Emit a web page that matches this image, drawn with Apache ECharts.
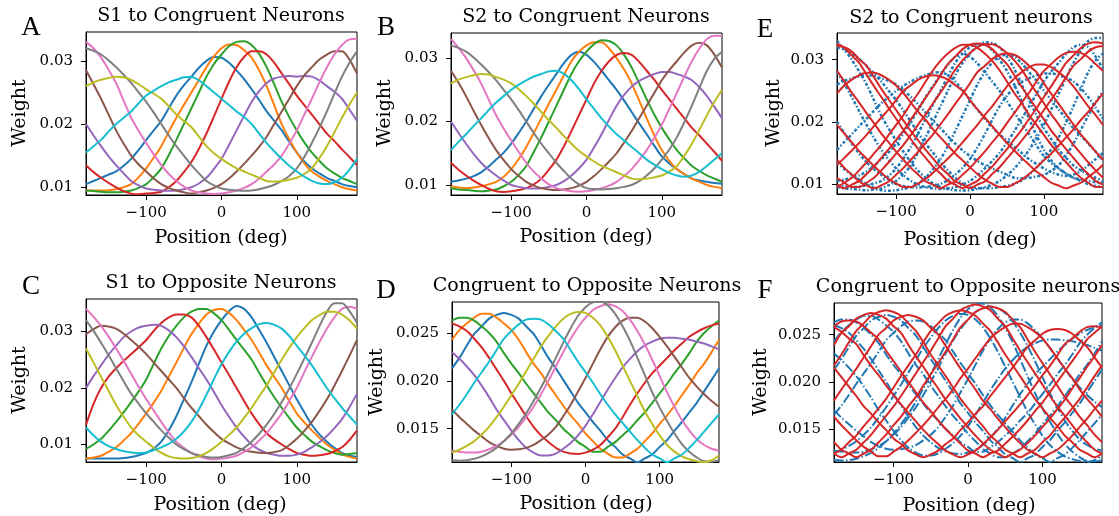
<!DOCTYPE html>
<html>
<head>
<meta charset="utf-8">
<script src="https://cdn.jsdelivr.net/npm/echarts@6/dist/echarts.min.js"></script>
<style>
  html, body { margin: 0; background: #fff; }
  #main { width: 1119px; height: 516px; }
</style>
</head>
<body>
<div id="main"></div>
<script>
// x positions (deg), shared by every curve
const positions = [-180, -170, -160, -150, -140, -130, -120, -110, -100, -90, -80, -70, -60, -50, -40, -30, -20, -10,
  0, 10, 20, 30, 40, 50, 60, 70, 80, 90, 100, 110, 120, 130, 140, 150, 160, 170, 180];
const xTicks = [-100, 0, 100];
const yTicksHigh = [0.01, 0.02, 0.03];
const yTicksLow = [0.015, 0.020, 0.025];

// weights below are in units of 0.001, one row per neuron
// A: S1 to congruent neurons
const s1Congruent = [
  [10.5, 11, 11.5, 12, 12.5, 13.4, 14.5, 15.9, 17.5, 19, 20.5, 22.5, 24.5, 26.1, 27.5, 28.9, 30, 30.6, 30.5, 29.7, 28.5, 27.1, 25.5, 23.8, 22, 20.5, 19, 17.2, 15.5, 14.1, 13, 12.2, 11.5, 11, 10.5, 10.2, 10],
  [9.5, 9.5, 9.5, 9.55, 9.7, 10, 10.5, 11.6, 13, 14.7, 16.5, 18.8, 21, 23, 25, 27, 29, 30.7, 32, 32.6, 32.5, 31.7, 30.5, 28.5, 26, 23, 20, 17.6, 15.5, 13.8, 12.5, 11.7, 11, 10.5, 10, 9.7, 9.5],
  [9.5, 9.4, 9.3, 9.2, 9.2, 9.3, 9.5, 9.9, 10.5, 11.6, 13, 15.1, 17.5, 20, 22.5, 25, 27.5, 29.5, 31, 32.3, 33, 33.1, 32.5, 31.1, 29, 26.3, 23.5, 21.1, 19, 17.1, 15.5, 14.2, 13, 12.2, 11.5, 11, 10.5],
  [13.5, 12.4, 11.5, 10.7, 10, 9.4, 9, 8.9, 9, 9.1, 9.3, 10, 11, 12.4, 14, 16.1, 18.5, 21.2, 24, 26.7, 29, 30.6, 31.5, 31.5, 31, 29.7, 28, 26.3, 24.5, 23, 21.5, 20, 18.5, 17.3, 16, 14.8, 13.5],
  [20, 18.2, 16.5, 14.9, 13.5, 12.2, 11, 10.3, 9.8, 9.6, 9.5, 9.45, 9.5, 9.7, 10, 10.6, 11.5, 12.9, 14.5, 16.7, 19, 21.3, 23.5, 25.2, 26.5, 27.2, 27.5, 27.6, 27.5, 27.6, 27.5, 26.9, 26, 25.1, 24, 22.3, 20.5],
  [28.5, 26.3, 24, 21.5, 19, 16.9, 15, 13.6, 12.5, 11.4, 10.5, 9.9, 9.5, 9.2, 9, 9.2, 9.5, 9.9, 10.5, 11.4, 12.5, 13.7, 15, 16.4, 18, 20, 22, 24, 26, 27.7, 29, 30.2, 31, 31.5, 31.5, 30.2, 28],
  [33, 32, 30.5, 28.6, 26.5, 23.7, 21, 18.9, 17, 15.2, 13.5, 12.1, 11, 10.1, 9.5, 9.2, 9, 8.95, 9, 9.2, 9.5, 9.9, 10.5, 11.4, 12.5, 13.6, 15, 16.9, 19, 21.5, 24, 26.6, 29, 31, 32.5, 33.4, 33.5],
  [32, 31.6, 31, 30.1, 29, 27.8, 26.5, 25, 23.5, 21.8, 20, 18.2, 16.5, 15, 13.5, 12.2, 11, 10.3, 9.8, 9.6, 9.5, 9.45, 9.5, 9.7, 10, 10.4, 11, 11.8, 13, 14.8, 17, 19.4, 22, 24.8, 27.5, 29.7, 31.5],
  [26, 26.6, 27, 27.3, 27.5, 27.4, 27, 26.3, 25.5, 24.8, 24, 22.8, 21.5, 20.5, 19.5, 18, 16.5, 15.4, 14.5, 13.7, 13, 12.5, 12, 11.5, 11, 10.9, 11, 11.2, 11.5, 12.1, 13, 14.6, 16.5, 18.7, 21, 23.1, 25],
  [15.5, 16.5, 17.5, 18.8, 20, 21, 22, 23.3, 24.5, 25.3, 26, 26.6, 27, 27.4, 27.5, 26.9, 26, 25, 24, 23, 22, 21.1, 20, 18.5, 17, 15.7, 14.5, 13.4, 12.5, 11.7, 11, 10.6, 10.5, 10.8, 11.5, 12.8, 14.5]
];
// B: S2 to congruent neurons (also the blue data in E)
const s2Congruent = [
  [10.5, 10.7, 11, 11.4, 12, 12.9, 14, 15.1, 16.5, 18.2, 20, 22, 24, 25.8, 27.5, 29.2, 30.5, 31, 30.5, 29.4, 28, 26.5, 25, 23.3, 21.5, 19.7, 18, 16.2, 14.5, 13.4, 12.5, 11.7, 11, 10.7, 10.5, 10.3, 10.2],
  [9.8, 9.6, 9.5, 9.6, 9.8, 10.1, 10.5, 11.3, 12.5, 14.1, 16, 18.2, 20.5, 22.8, 25, 27.3, 29.5, 31, 32, 32.5, 32.5, 31.5, 30, 28.2, 26, 23.3, 20.5, 17.8, 15.5, 13.8, 12.5, 11.7, 11, 10.5, 10, 9.7, 9.5],
  [9.5, 9.3, 9.2, 9.1, 9, 9.1, 9.3, 9.8, 10.5, 11.6, 13, 15.2, 17.5, 20, 22.5, 25, 27.5, 29.5, 31, 32.2, 32.8, 32.7, 32, 30.5, 28.5, 26, 23.5, 21.1, 19, 17.2, 15.5, 14.2, 13, 12.2, 11.5, 11, 10.5],
  [13.5, 12.4, 11.5, 10.7, 10, 9.4, 9, 8.9, 9, 9.2, 9.5, 10.1, 11, 12.4, 14, 16.1, 18.5, 21, 23.5, 26, 28, 29.5, 30.5, 30.8, 30.5, 29.4, 28, 26.6, 25, 23.5, 22, 20.5, 19, 17.8, 16.5, 15.2, 13.8],
  [20, 18.2, 16.5, 14.9, 13.5, 12.4, 11.5, 10.7, 10, 9.7, 9.5, 9.45, 9.5, 9.7, 10, 10.6, 11.5, 12.6, 14, 15.9, 18, 20.3, 22.5, 24.2, 25.5, 26.4, 27, 27.5, 27.8, 27.8, 27.5, 27.1, 26.5, 25.4, 24, 22.3, 20.5],
  [28, 26.1, 24, 21.7, 19.5, 17.4, 15.5, 13.9, 12.5, 11.4, 10.5, 9.9, 9.5, 9.3, 9.2, 9.3, 9.5, 9.9, 10.5, 11.4, 12.5, 13.7, 15, 16.7, 18.5, 20.5, 22.5, 24.5, 26.5, 28.1, 29.5, 30.9, 32, 32.4, 32, 30.5, 28.5],
  [33, 31.6, 30, 28.1, 26, 23.5, 21, 18.9, 17, 15.2, 13.5, 12.1, 11, 10.1, 9.5, 9.2, 9, 8.95, 9, 9.2, 9.5, 9.9, 10.5, 11.4, 12.5, 13.9, 15.5, 17.4, 19.5, 22, 24.5, 27.1, 29.5, 31.5, 33, 33.5, 33.5],
  [32, 31.6, 31, 30.1, 29, 27.8, 26.5, 25, 23.5, 21.8, 20, 18.2, 16.5, 15, 13.5, 12.2, 11, 10.1, 9.5, 9.35, 9.3, 9.35, 9.5, 9.7, 10, 10.6, 11.5, 12.6, 14, 15.6, 17.5, 19.9, 22.5, 25.3, 28, 29.9, 31],
  [26, 26.6, 27, 27.3, 27.5, 27.4, 27, 26.6, 26, 25.1, 24, 22.8, 21.5, 20.2, 19, 17.7, 16.5, 15.4, 14.5, 13.7, 13, 12.5, 12, 11.5, 11, 10.9, 11, 11.2, 11.5, 12.1, 13, 14.6, 16.5, 18.7, 21, 23.1, 25],
  [15.5, 16.8, 18, 19.3, 20.5, 21.8, 23, 24, 25, 25.8, 26.5, 27.1, 27.5, 27.9, 28, 27.5, 26.5, 25.1, 23.5, 22, 20.5, 19.2, 18, 17, 16, 15, 14, 13.2, 12.5, 11.9, 11.5, 11.3, 11.5, 12.1, 13, 14, 15]
];
// C: S1 to opposite neurons
const s1Opposite = [
  [7.5, 7.5, 7.5, 7.5, 7.5, 7.6, 7.8, 8.1, 8.5, 9.3, 10.5, 12.5, 15, 18, 21, 24.3, 27.5, 30, 32, 33.6, 34.5, 34, 32.5, 30.3, 28, 25.5, 23, 20.5, 18, 15.7, 13.5, 11.8, 10.5, 9.4, 8.5, 8, 7.8],
  [7.5, 7.7, 8, 8.7, 9.5, 10.7, 12, 13.7, 15.5, 17.4, 19.5, 22, 24.5, 27.1, 29.5, 31.4, 33, 33.8, 34, 33.3, 32, 30.3, 28.5, 26.3, 24, 22, 20, 17.7, 15.5, 13.9, 12.5, 11.2, 10, 9.1, 8.3, 7.8, 7.5],
  [9.2, 10, 11, 12.4, 14, 15.7, 17.5, 19.4, 21.5, 24.3, 27, 29.2, 31, 32.5, 33.5, 34, 34, 33.2, 32, 30.3, 28.5, 26.8, 25, 22.7, 20.5, 18.4, 16.5, 14.7, 13, 11.7, 10.5, 9.7, 9, 8.5, 8.2, 8.3, 8.5],
  [13.5, 17.2, 20, 22, 23.5, 24.8, 26, 27.2, 28.5, 30.1, 31.5, 32.5, 33, 33, 32.5, 31, 29, 26.8, 24.5, 22.3, 20, 17.7, 15.5, 13.6, 12, 10.9, 10, 9.2, 8.5, 8.2, 8, 8.1, 8.3, 8.8, 9.5, 10.8, 12.5],
  [20, 22.1, 24, 25.9, 27.5, 29, 30, 30.7, 31, 31.2, 31, 30.2, 29, 27.4, 25.5, 23.5, 21.5, 19.3, 17, 14.9, 13, 11.4, 10, 9.1, 8.5, 8.2, 8, 8, 8.2, 8.7, 9.5, 10.4, 11.5, 12.9, 14.5, 16.6, 19],
  [29.5, 30.4, 31, 30.9, 30.5, 29.6, 28.5, 27.3, 26, 24.5, 23, 21.5, 20, 18.2, 16.5, 15, 13.5, 12.2, 11, 10.2, 9.5, 9, 8.7, 8.55, 8.5, 8.65, 9, 9.9, 11, 12.4, 14, 15.9, 18, 20.4, 23, 25.7, 28.5],
  [34, 32.6, 31, 29.1, 27, 24.8, 22.5, 20.2, 18, 16, 14, 12.1, 10.5, 9.4, 8.5, 7.9, 7.5, 7.4, 7.5, 7.7, 8, 8.7, 9.5, 10.7, 12, 13.7, 15.5, 17.7, 20, 22.8, 25.5, 28.1, 30.5, 32.5, 34, 34.4, 34],
  [32, 30.1, 28, 25.8, 23.5, 21.2, 19, 17.2, 15.5, 14, 12.5, 11.2, 10, 9.2, 8.5, 8.1, 7.8, 7.7, 7.8, 8.1, 8.5, 9.4, 10.5, 11.9, 13.5, 15.4, 17.5, 19.9, 22.5, 25.2, 28, 30.9, 33.5, 35, 35, 33.6, 31.5],
  [27, 24.5, 22, 19.5, 17, 14.9, 13, 11.6, 10.5, 9.4, 8.5, 7.9, 7.6, 7.5, 7.6, 7.9, 8.5, 9.4, 10.5, 11.7, 13, 14.7, 16.5, 18.5, 20.5, 22.8, 25, 27.1, 29, 30.6, 32, 32.9, 33.5, 33.5, 33, 32, 30.5],
  [13, 11.6, 10.5, 9.7, 9.2, 8.8, 8.6, 8.5, 8.6, 9, 9.5, 10.1, 11, 12.3, 14, 16.2, 18.8, 21.6, 24.2, 26.4, 28.2, 29.6, 30.6, 31.3, 31.5, 31.2, 30.5, 29.2, 27.5, 25.8, 24, 22, 20, 18.2, 16.5, 15, 13.5]
];
// D: congruent to opposite neurons (also the blue data in F)
const congToOpp = [
  [21.3, 22.4, 23.7, 24.9, 25.7, 26.5, 26.9, 27.1, 26.9, 26.5, 25.7, 24.9, 23.7, 22.4, 21.3, 20.1, 18.9, 17.7, 16.7, 15.7, 14.8, 13.8, 13.1, 12.3, 11.9, 11.5, 11.9, 12.3, 13.1, 13.8, 14.8, 15.7, 16.7, 17.7, 18.9, 20.1, 21.3],
  [24.3, 25.3, 26, 26.6, 27, 27, 26.6, 26, 25.3, 24.3, 23, 21.8, 20.8, 19.6, 18.5, 17.4, 16.4, 15.5, 14.5, 13.7, 12.9, 12.4, 12, 12, 12.4, 12.9, 13.7, 14.5, 15.5, 16.4, 17.4, 18.5, 19.6, 20.8, 21.8, 23, 24.3],
  [26.3, 26.6, 26.6, 26.3, 25.7, 25, 24.1, 22.9, 21.8, 20.8, 19.7, 18.7, 17.7, 16.7, 15.9, 15, 14.3, 13.6, 13.1, 12.6, 12.6, 13.1, 13.6, 14.3, 15, 15.9, 16.7, 17.7, 18.7, 19.7, 20.8, 21.8, 22.9, 24.1, 25, 25.7, 26.3],
  [26, 25.7, 25.2, 24.4, 23.5, 22.4, 21.2, 20, 18.7, 17.5, 16.3, 15.2, 14.3, 13.6, 13, 12.6, 12.4, 12.35, 12.5, 12.8, 13.3, 14.1, 15, 16.2, 17.5, 18.7, 19.8, 20.8, 21.6, 22.4, 23.2, 23.9, 24.6, 25.1, 25.5, 25.8, 26],
  [23, 22.3, 21.5, 20.6, 19.5, 18.3, 17, 15.9, 14.8, 13.8, 13, 12.5, 12.2, 12.2, 12.4, 12.9, 13.5, 14.3, 15.3, 16.5, 17.8, 19.1, 20.3, 21.4, 22.3, 23.1, 23.7, 24.1, 24.4, 24.5, 24.5, 24.4, 24.3, 24.1, 23.9, 23.6, 23.3],
  [17, 16.2, 15.5, 14.8, 14.2, 13.6, 13.2, 12.9, 12.8, 12.85, 13, 13.3, 13.8, 14.4, 15.2, 16.3, 17.5, 18.9, 20.3, 21.8, 23.3, 24.6, 25.6, 26.3, 26.6, 26.6, 26.2, 25.5, 24.6, 23.6, 22.5, 21.4, 20.3, 19.4, 18.6, 17.9, 17.3],
  [12.7, 12.6, 12.5, 12.5, 12.6, 12.85, 13.2, 13.7, 14.4, 15.2, 16.2, 17.3, 18.6, 20, 21.5, 23, 24.4, 25.6, 26.6, 27.4, 27.8, 28, 27.8, 27.3, 26.4, 25.2, 23.8, 22.2, 20.5, 18.8, 17.3, 15.9, 14.8, 13.9, 13.3, 12.9, 12.7],
  [11.7, 11.65, 11.7, 11.85, 12.1, 12.5, 13, 13.7, 14.5, 15.5, 16.6, 17.9, 19.3, 20.8, 22.4, 24, 25.5, 26.8, 27.7, 28.2, 28.3, 27.9, 27, 25.7, 24.2, 22.4, 20.6, 18.8, 17.2, 15.8, 14.5, 13.4, 12.6, 12, 11.6, 11.55, 11.7],
  [12.5, 12.8, 13.2, 13.7, 14.4, 15.2, 16.2, 17.3, 18.5, 19.7, 21, 22.3, 23.6, 24.7, 25.7, 26.5, 27, 27.2, 27.1, 26.6, 25.8, 24.6, 23.2, 21.6, 20, 18.4, 16.8, 15.5, 14.3, 13.3, 12.6, 12.1, 11.8, 11.6, 11.5, 11.7, 12.2],
  [16.5, 17.5, 18.6, 19.8, 20.9, 22, 23.2, 24.4, 25.2, 25.9, 26.4, 26.5, 26.4, 25.9, 25.2, 24.4, 23.2, 22, 20.9, 19.8, 18.6, 17.5, 16.5, 15.6, 14.7, 13.8, 13, 12.3, 11.9, 11.5, 11.9, 12.3, 13, 13.8, 14.7, 15.6, 16.5]
];
// E: fitted curves for S2 to congruent neurons
const s2CongruentFit = [
  [32.2, 32, 31.3, 30.1, 29, 27.2, 25.3, 23.6, 21.9, 20.2, 18.5, 17, 15.5, 14.1, 12.7, 11.6, 10.4, 9.9, 9.3, 9.9, 10.4, 11.6, 12.7, 14.1, 15.5, 17, 18.5, 20.2, 21.9, 23.6, 25.3, 27.2, 29, 30.1, 31.3, 32, 32.2],
  [24.6, 25.85, 26.8, 27.5, 27.9, 27.9, 27.5, 26.8, 25.85, 24.6, 23.1, 21.6, 20.3, 18.8, 17.5, 16.2, 14.9, 13.8, 12.7, 11.6, 10.7, 10.05, 9.5, 9.5, 10.05, 10.7, 11.6, 12.7, 13.8, 14.9, 16.2, 17.5, 18.8, 20.3, 21.6, 23.1, 24.6],
  [13.1, 14.2, 15.4, 16.6, 17.9, 19.3, 20.7, 22, 23.5, 25, 25.9, 26.8, 27.3, 27.5, 27.3, 26.8, 25.9, 25, 23.5, 22, 20.7, 19.3, 17.9, 16.6, 15.4, 14.2, 13.1, 12, 11.1, 10.2, 9.75, 9.3, 9.75, 10.2, 11.1, 12, 13.1],
  [9.5, 10.2, 11, 12.2, 13.5, 14.9, 16.3, 17.9, 19.5, 21.1, 23, 24.6, 26.5, 28.3, 29.8, 31, 31.9, 32.4, 32.4, 31.9, 31, 29.8, 28.3, 26.5, 24.6, 23, 21.1, 19.5, 17.9, 16.3, 14.9, 13.5, 12.2, 11, 10.2, 9.5, 9.5],
  [9.9, 9.3, 9.9, 10.5, 11.6, 12.8, 14.2, 15.6, 17.1, 18.6, 20.4, 22.1, 23.9, 25.6, 27.5, 29.3, 30.5, 31.7, 32.4, 32.6, 32.4, 31.7, 30.5, 29.3, 27.5, 25.6, 23.9, 22.1, 20.4, 18.6, 17.1, 15.6, 14.2, 12.8, 11.6, 10.5, 9.9],
  [11, 10.2, 9.5, 9.5, 10.2, 11, 12.2, 13.5, 14.9, 16.3, 17.9, 19.6, 21.2, 23, 24.7, 26.5, 28.4, 29.9, 31.1, 32, 32.5, 32.5, 32, 31.1, 29.9, 28.4, 26.5, 24.7, 23, 21.2, 19.6, 17.9, 16.3, 14.9, 13.5, 12.2, 11],
  [13.9, 12.6, 11.5, 10.4, 9.8, 9.3, 9.8, 10.4, 11.5, 12.6, 13.9, 15.2, 16.6, 18, 19.6, 21.2, 22.9, 24.5, 26.2, 28, 29, 30.1, 30.8, 31, 30.8, 30.1, 29, 28, 26.2, 24.5, 22.9, 21.2, 19.6, 18, 16.6, 15.2, 13.9],
  [19.5, 18.1, 16.7, 15.3, 14.1, 12.9, 11.8, 10.8, 10.1, 9.5, 9.5, 10.1, 10.8, 11.8, 12.9, 14.1, 15.3, 16.7, 18.1, 19.5, 21.1, 22.5, 24.1, 25.7, 27, 28, 28.8, 29.25, 29.25, 28.8, 28, 27, 25.7, 24.1, 22.5, 21.1, 19.5],
  [28.2, 26.5, 24.7, 23.1, 21.4, 19.8, 18.1, 16.7, 15.2, 13.9, 12.6, 11.5, 10.4, 9.9, 9.3, 9.9, 10.4, 11.5, 12.6, 13.9, 15.2, 16.7, 18.1, 19.8, 21.4, 23.1, 24.7, 26.5, 28.2, 29.3, 30.4, 31.1, 31.3, 31.1, 30.4, 29.3, 28.2],
  [32.6, 31.9, 30.7, 29.5, 27.6, 25.75, 24, 22.2, 20.5, 18.7, 17.2, 15.6, 14.2, 12.8, 11.7, 10.5, 9.9, 9.3, 9.9, 10.5, 11.7, 12.8, 14.2, 15.6, 17.2, 18.7, 20.5, 22.2, 24, 25.75, 27.6, 29.5, 30.7, 31.9, 32.6, 32.8, 32.6]
];
// F: fitted curves for congruent to opposite neurons
const congToOppFit = [
  [25.9, 26.4, 26.5, 26.4, 25.9, 25.2, 24.5, 23.3, 22.2, 21.1, 20, 18.9, 17.8, 16.9, 15.9, 15, 14.2, 13.45, 12.7, 12.4, 12, 12.4, 12.7, 13.45, 14.2, 15, 15.9, 16.9, 17.8, 18.9, 20, 21.1, 22.2, 23.3, 24.5, 25.2, 25.9],
  [23.9, 25.2, 25.9, 26.7, 27.1, 27.3, 27.1, 26.7, 25.9, 25.2, 23.9, 22.7, 21.6, 20.4, 19.3, 18.1, 17.1, 16.1, 15.2, 14.3, 13.5, 12.8, 12.4, 12, 12.4, 12.8, 13.5, 14.3, 15.2, 16.1, 17.1, 18.1, 19.3, 20.4, 21.6, 22.7, 23.9],
  [21.75, 22.9, 24.2, 25.4, 26.2, 27, 27.4, 27.6, 27.4, 27, 26.2, 25.4, 24.2, 22.9, 21.75, 20.6, 19.4, 18.2, 17.2, 16.2, 15.3, 14.3, 13.6, 12.8, 12.4, 12, 12.4, 12.8, 13.6, 14.3, 15.3, 16.2, 17.2, 18.2, 19.4, 20.6, 21.75],
  [18, 19.2, 20.3, 21.4, 22.6, 23.8, 25, 25.7, 26.5, 26.9, 27.1, 26.9, 26.5, 25.7, 25, 23.8, 22.6, 21.4, 20.3, 19.2, 18, 17.1, 16.1, 15.2, 14.3, 13.5, 12.8, 12.4, 12, 12.4, 12.8, 13.5, 14.3, 15.2, 16.1, 17.1, 18],
  [12.4, 12.8, 13.6, 14.3, 15.3, 16.2, 17.2, 18.2, 19.4, 20.6, 21.75, 22.9, 24.2, 25.4, 26.2, 27, 27.4, 27.6, 27.4, 27, 26.2, 25.4, 24.2, 22.9, 21.75, 20.6, 19.4, 18.2, 17.2, 16.2, 15.3, 14.3, 13.6, 12.8, 12.4, 12, 12.4],
  [12.4, 12, 12.4, 12.8, 13.6, 14.4, 15.4, 16.4, 17.4, 18.5, 19.7, 20.9, 22.1, 23.3, 24.6, 25.9, 26.7, 27.6, 28, 28.2, 28, 27.6, 26.7, 25.9, 24.6, 23.3, 22.1, 20.9, 19.7, 18.5, 17.4, 16.4, 15.4, 14.4, 13.6, 12.8, 12.4],
  [13.6, 12.8, 12.4, 12, 12.4, 12.8, 13.6, 14.4, 15.4, 16.3, 17.4, 18.4, 19.6, 20.8, 22, 23.2, 24.5, 25.8, 26.6, 27.4, 27.8, 28, 27.8, 27.4, 26.6, 25.8, 24.5, 23.2, 22, 20.8, 19.6, 18.4, 17.4, 16.3, 15.4, 14.4, 13.6],
  [16.3, 15.4, 14.6, 13.8, 13.1, 12.6, 12.1, 12.1, 12.6, 13.1, 13.8, 14.6, 15.4, 16.3, 17.3, 18.2, 19.2, 20.4, 21.4, 22.5, 23.6, 24.6, 25.3, 25.8, 26.15, 26.15, 25.8, 25.3, 24.6, 23.6, 22.5, 21.4, 20.4, 19.2, 18.2, 17.3, 16.3],
  [21.5, 20.5, 19.5, 18.5, 17.4, 16.6, 15.7, 14.9, 14, 13.4, 12.7, 12.3, 12, 12.3, 12.7, 13.4, 14, 14.9, 15.7, 16.6, 17.4, 18.5, 19.5, 20.5, 21.5, 22.6, 23.7, 24.4, 25.1, 25.5, 25.6, 25.5, 25.1, 24.4, 23.7, 22.6, 21.5],
  [25.8, 25.3, 24.6, 24, 22.8, 21.7, 20.7, 19.6, 18.6, 17.6, 16.7, 15.8, 14.9, 14.1, 13.4, 12.7, 12.3, 12, 12.3, 12.7, 13.4, 14.1, 14.9, 15.8, 16.7, 17.6, 18.6, 19.6, 20.7, 21.7, 22.8, 24, 24.6, 25.3, 25.8, 25.9, 25.8]
];

const tab10 = ['#1f77b4', '#ff7f0e', '#2ca02c', '#d62728', '#9467bd', '#8c564b', '#e377c2', '#7f7f7f', '#bcbd22', '#17becf'];
const serif = 'DejaVu Serif';

// panels: A, B, E (top row) then C, D, F
const panels = [
  {letter: 'A', title: 'S1 to Congruent Neurons', grid: [86, 32, 271, 163], y: [0.00878, 0.03456], ticks: yTicksHigh, dec: 2},
  {letter: 'B', title: 'S2 to Congruent Neurons', grid: [451, 33, 271, 162], y: [0.00842, 0.03395], ticks: yTicksHigh, dec: 2},
  {letter: 'E', title: 'S2 to Congruent neurons', grid: [837, 33, 266, 161], y: [0.00839, 0.0343], ticks: yTicksHigh, dec: 2},
  {letter: 'C', title: 'S1 to Opposite Neurons', grid: [86, 299, 271, 163], y: [0.0069, 0.03575], ticks: yTicksHigh, dec: 2},
  {letter: 'D', title: 'Congruent to Opposite Neurons', grid: [452, 302, 267, 160], y: [0.01152, 0.02824], ticks: yTicksLow, dec: 3},
  {letter: 'F', title: 'Congruent to Opposite neurons', grid: [834, 303, 268, 159], y: [0.0115, 0.02836], ticks: yTicksLow, dec: 3}
];
// text positions: letter, title, x label, y label centres
const labelPos = [
  {letter: [31, 28], title: [221, 16], xl: [221, 238], yl: [20, 113]},
  {letter: [386, 28], title: [586, 17], xl: [586, 237], yl: [385, 113]},
  {letter: [765, 30], title: [971, 18], xl: [970, 240], yl: [774, 113]},
  {letter: [31, 287], title: [221, 283], xl: [220, 505], yl: [20, 380]},
  {letter: [386, 291], title: [587, 286], xl: [586, 504], yl: [377, 382]},
  {letter: [765, 291], title: [968, 287], xl: [969, 506], yl: [761, 382]}
];

function toPoints(row) {
  return positions.map((x, k) => [x, row[k] / 1000]);
}

function lineSeries(idx, row, color, width, dash) {
  return {
    type: 'line',
    xAxisIndex: idx,
    yAxisIndex: idx,
    data: toPoints(row),
    showSymbol: false,
    smooth: 0.3,
    silent: true,
    clip: true,
    lineStyle: {color: color, width: width, type: dash || 'solid'},
    emphasis: {disabled: true}
  };
}

const series = [];
s1Congruent.forEach((r, j) => series.push(lineSeries(0, r, tab10[j], 2)));
s2Congruent.forEach((r, j) => series.push(lineSeries(1, r, tab10[j], 2)));
s2Congruent.forEach(r => series.push(lineSeries(2, r, '#1f77b4', 2.5, [3, 2, 1.5, 2])));
s2CongruentFit.forEach(r => series.push(lineSeries(2, r, '#d62728', 2)));
s1Opposite.forEach((r, j) => series.push(lineSeries(3, r, tab10[j], 2)));
congToOpp.forEach((r, j) => series.push(lineSeries(4, r, tab10[j], 2)));
congToOpp.forEach(r => series.push(lineSeries(5, r, '#1f77b4', 2, [9.6, 2.4, 1.5, 2.4])));
congToOppFit.forEach(r => series.push(lineSeries(5, r, '#d62728', 2)));

const grids = panels.map(p => ({
  left: p.grid[0], top: p.grid[1], width: p.grid[2], height: p.grid[3],
  show: true, borderColor: '#000', borderWidth: 1, backgroundColor: 'transparent', containLabel: false
}));

const tickStyle = {show: true, length: 5, inside: false, lineStyle: {color: '#000', width: 1}};
const xAxes = panels.map((p, i) => ({
  type: 'value', gridIndex: i, min: -180, max: 180,
  axisLine: {show: true, onZero: false, lineStyle: {color: '#000', width: 1}},
  splitLine: {show: false},
  axisTick: Object.assign({customValues: xTicks}, tickStyle),
  axisLabel: {
    customValues: xTicks, margin: 11, color: '#000', fontSize: 15, fontFamily: serif,
    formatter: v => String(v).replace('-', '\u2212')
  }
}));
const yAxes = panels.map((p, i) => ({
  type: 'value', gridIndex: i, min: p.y[0], max: p.y[1],
  axisLine: {show: true, onZero: false, lineStyle: {color: '#000', width: 1}},
  splitLine: {show: false},
  axisTick: Object.assign({customValues: p.ticks}, tickStyle),
  axisLabel: {
    customValues: p.ticks, margin: 13, color: '#000', fontSize: 15, fontFamily: serif,
    formatter: v => v.toFixed(p.dec)
  }
}));

const graphic = [];
panels.forEach((p, i) => {
  const L = labelPos[i];
  graphic.push({type: 'text', x: L.letter[0], y: L.letter[1], silent: true,
    style: {text: p.letter, fill: '#000', font: '27px "Liberation Serif"', align: 'center', verticalAlign: 'middle'}});
  graphic.push({type: 'text', x: L.title[0], y: L.title[1], silent: true,
    style: {text: p.title, fill: '#000', font: '19px "DejaVu Serif"', align: 'center', verticalAlign: 'middle'}});
  graphic.push({type: 'text', x: L.xl[0], y: L.xl[1], silent: true,
    style: {text: 'Position (deg)', fill: '#000', font: '19px "DejaVu Serif"', align: 'center', verticalAlign: 'middle'}});
  graphic.push({type: 'text', x: L.yl[0], y: L.yl[1], rotation: Math.PI / 2, silent: true,
    style: {text: 'Weight', fill: '#000', font: '19px "DejaVu Serif"', align: 'center', verticalAlign: 'middle'}});
});

const chart = echarts.init(document.getElementById('main'), null, {renderer: 'canvas'});
chart.setOption({
  animation: false,
  backgroundColor: '#fff',
  grid: grids,
  xAxis: xAxes,
  yAxis: yAxes,
  series: series,
  graphic: graphic
});
</script>
</body>
</html>
